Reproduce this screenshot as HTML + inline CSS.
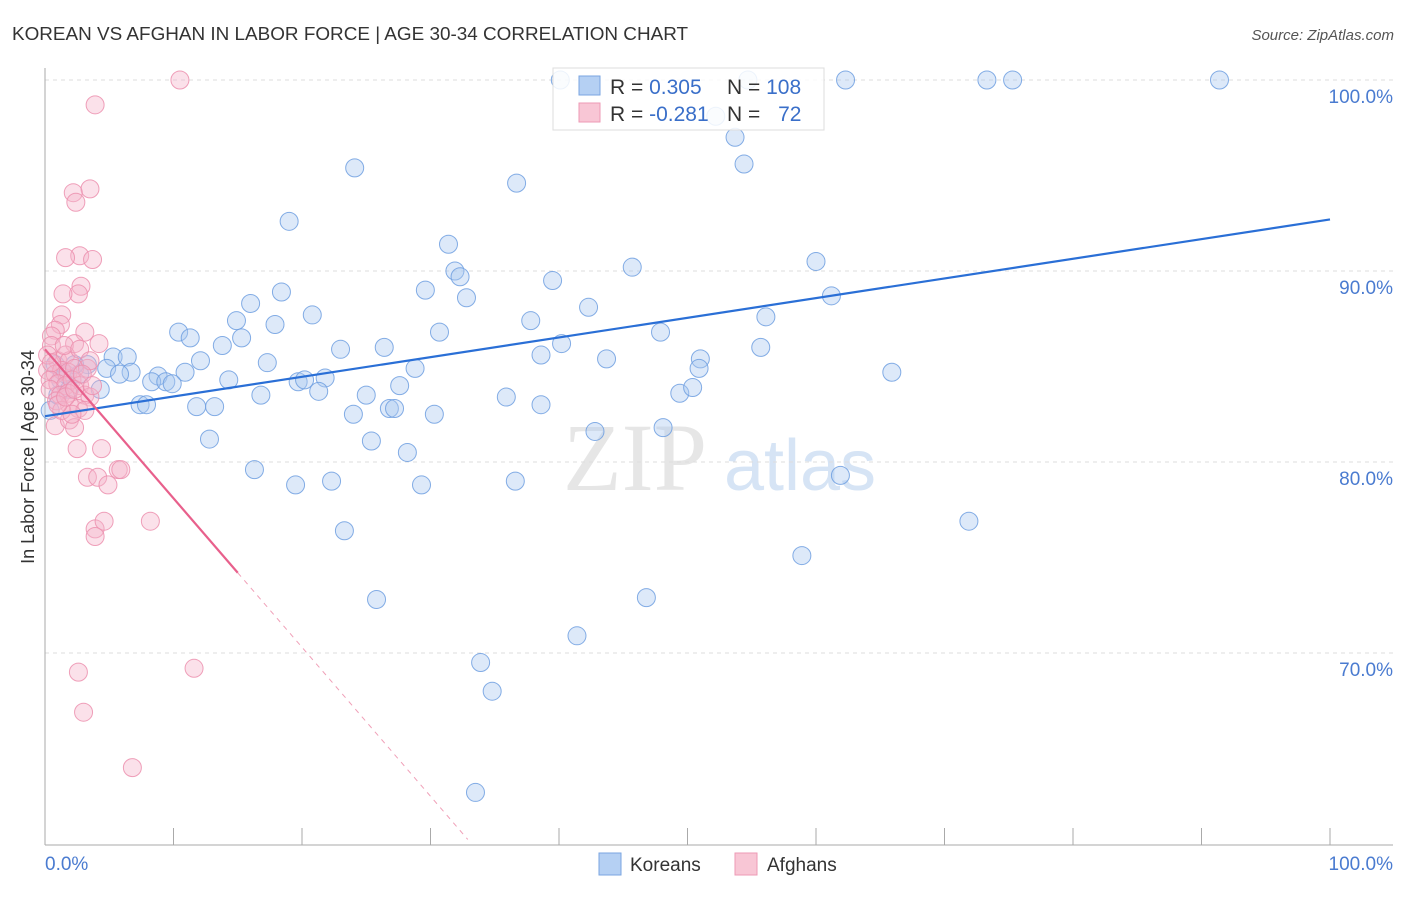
<!DOCTYPE html>
<html><head><meta charset="utf-8"><style>
body{margin:0;background:#fff;font-family:"Liberation Sans",sans-serif}
</style></head><body>
<svg width="1406" height="892" viewBox="0 0 1406 892" xmlns="http://www.w3.org/2000/svg" font-family="Liberation Sans, sans-serif">
<text x="12" y="40" font-size="18.9" fill="#333">KOREAN VS AFGHAN IN LABOR FORCE | AGE 30-34 CORRELATION CHART</text>
<text x="1394" y="40" font-size="15" fill="#555" text-anchor="end" font-style="italic">Source: ZipAtlas.com</text>
<g><text x="635" y="490" font-size="96" font-family="Liberation Serif, serif" fill="#e6e6e6" text-anchor="middle">ZIP</text><text x="800" y="490" font-size="72" fill="#d6e4f5" text-anchor="middle">atlas</text></g>
<g id="grid"></g><g id="axes"></g><g id="marks"></g><g id="lines"></g>
<text transform="translate(34,457) rotate(-90)" font-size="18" fill="#333" text-anchor="middle">In Labor Force | Age 30-34</text>
<text x="45" y="870" font-size="19" fill="#4a7bd0">0.0%</text>
<text x="1393" y="870" font-size="19" fill="#4a7bd0" text-anchor="end">100.0%</text>
<g>
<rect x="553" y="68" width="271" height="62" fill="#fff" fill-opacity="0.85" stroke="#ddd"/>
<rect x="579" y="76" width="21" height="19" fill="#b5d0f3" stroke="#7aa5e0"/>
<rect x="579" y="103" width="21" height="19" fill="#f8c6d5" stroke="#ee9ab5"/>
<text x="610" y="94" font-size="21" fill="#333">R = <tspan fill="#3a6fc9">0.305</tspan></text>
<text x="727" y="94" font-size="21" fill="#333">N = <tspan fill="#3a6fc9">108</tspan></text>
<text x="610" y="121" font-size="21" fill="#333">R = <tspan fill="#3a6fc9">-0.281</tspan></text>
<text x="727" y="121" font-size="21" fill="#333">N = <tspan fill="#3a6fc9" dx="12">72</tspan></text>
</g>
<g>
<rect x="599" y="853" width="22" height="22" fill="#b5d0f3" stroke="#7aa5e0"/>
<text x="630" y="871" font-size="19" fill="#333">Koreans</text>
<rect x="735" y="853" width="22" height="22" fill="#f8c6d5" stroke="#ee9ab5"/>
<text x="767" y="871" font-size="19" fill="#333">Afghans</text>
</g>
</svg>
<script>
const yTicks=[100,90,80,70];
const yTickLabels=["100.0%","90.0%","80.0%","70.0%"];
const xTicks=[0,10,20,30,40,50,60,70,80,90,100];
const koreanX=[40.1,54.7,62.3,73.3,75.3,91.4,52.2,53.7,54.4,24.1,36.7,19.0,31.4,31.9,32.3,45.7,60.0,39.5,29.6,32.8,18.4,16.0,20.8,42.3,37.8,56.1,61.2,14.9,17.9,10.4,11.3,30.7,47.9,15.3,13.8,23.0,26.4,40.2,55.7,5.3,6.4,12.1,17.3,38.6,43.7,51.0,3.3,4.8,28.8,50.9,6.7,5.8,10.9,8.8,14.3,8.3,9.4,9.9,19.7,20.2,21.8,65.9,27.6,4.3,21.3,16.8,25.0,49.4,50.4,35.9,7.4,7.9,11.8,13.2,24.0,26.8,27.2,30.3,38.6,42.8,48.1,12.8,25.4,28.2,61.9,16.3,19.5,22.3,29.3,36.6,71.9,23.3,58.9,25.8,46.8,41.4,33.9,34.8,33.5,0.8,1.2,1.9,0.4,1.6,2.7,1.0,2.3];
const koreanY=[100,100,100,100,100,100,98.1,97.0,95.6,95.4,94.6,92.6,91.4,90.0,89.7,90.2,90.5,89.5,89.0,88.6,88.9,88.3,87.7,88.1,87.4,87.6,88.7,87.4,87.2,86.8,86.5,86.8,86.8,86.5,86.1,85.9,86.0,86.2,86.0,85.5,85.5,85.3,85.2,85.6,85.4,85.4,85.1,84.9,84.9,84.9,84.7,84.6,84.7,84.5,84.3,84.2,84.2,84.1,84.2,84.3,84.4,84.7,84.0,83.8,83.7,83.5,83.5,83.6,83.9,83.4,83.0,83.0,82.9,82.9,82.5,82.8,82.8,82.5,83.0,81.6,81.8,81.2,81.1,80.5,79.3,79.6,78.8,79.0,78.8,79.0,76.9,76.4,75.1,72.8,72.9,70.9,69.5,68.0,62.7,85.1,84.3,83.8,82.7,84.6,84.6,83.5,85.1];
const afghanX=[10.5,3.9,3.5,2.2,2.4,2.7,1.6,3.7,2.8,2.6,1.4,1.3,1.2,0.8,0.5,3.1,4.2,2.3,0.5,1.0,1.6,1.9,0.2,0.8,1.3,1.8,2.3,3.3,0.4,1.0,1.6,2.1,2.7,0.4,1.2,1.8,3.1,3.5,1.9,2.6,3.1,0.8,1.9,2.3,2.5,4.4,3.3,4.1,5.7,5.9,4.9,3.9,4.6,3.9,8.2,2.6,11.6,3.0,6.8,0.9,1.3,2.1,0.2,0.5,1.5,2.7,3.5,1.0,1.6,2.3,2.9,3.7];
const afghanY=[100,98.7,94.3,94.1,93.6,90.8,90.7,90.6,89.2,88.8,88.8,87.7,87.2,86.9,86.6,86.8,86.2,86.2,86.1,85.3,85.6,85.3,84.8,84.6,84.8,84.7,84.9,84.9,84.3,84.1,84.0,84.3,84.0,83.8,83.5,83.6,83.5,83.4,83.0,82.8,82.7,81.9,82.2,81.8,80.7,80.7,79.2,79.2,79.6,79.6,78.8,76.5,76.9,76.1,76.9,69.0,69.2,66.9,64.0,83.2,82.7,82.5,85.6,85.2,86.1,85.9,85.3,83.0,83.4,83.8,84.6,84.0];
const koreanFit=[82.4,0.103]; // intercept, slope
const afghanFit=[85.9,-0.78];
const afghanSolidEnd=15.0, afghanDashEnd=32.9;
const NS="http://www.w3.org/2000/svg";
const X=v=>45+v*12.85, Y=v=>80+(100-v)*19.1;
function mk(t,a,p){const e=document.createElementNS(NS,t);for(const k in a)e.setAttribute(k,a[k]);p.appendChild(e);return e;}
const grid=document.getElementById('grid'),axes=document.getElementById('axes'),marks=document.getElementById('marks'),lines=document.getElementById('lines');
yTicks.forEach((t,i)=>{
 const l=mk('line',{x1:45,x2:1393,y1:Y(t),y2:Y(t),stroke:'#ddd','stroke-dasharray':'4 4'},grid);
 
 
 const tx=mk('text',{x:1393,y:Y(t)+23,'font-size':19,fill:'#4a7bd0','text-anchor':'end'},grid);
 tx.textContent=yTickLabels[i];
 
 
});
const ax=mk('line',{x1:45,x2:45,y1:68,y2:845,stroke:'#aaa'},axes);


const bx=mk('line',{x1:45,x2:1393,y1:845,y2:845,stroke:'#aaa'},axes);


xTicks.forEach(t=>{
 const k=mk('line',{x1:X(t),x2:X(t),y1:828,y2:845,stroke:'#aaa'},axes);
 
 
});
function pts(xs,ys,fill,stroke,name){xs.forEach((x,i)=>{
 const c=mk('circle',{cx:X(x),cy:Y(ys[i]),r:9,fill:fill,'fill-opacity':0.4,stroke:stroke,'stroke-width':1,'stroke-opacity':0.85},marks);
 
 
});}
pts(koreanX,koreanY,'#a9c7f0','#6f9fe0','korean-point');
pts(afghanX,afghanY,'#f6b5ca','#ec8fae','afghan-point');
const kl=mk('line',{x1:X(0),y1:Y(koreanFit[0]),x2:X(100),y2:Y(koreanFit[0]+100*koreanFit[1]),stroke:'#2a6fd6','stroke-width':2.2},lines);


const al=mk('line',{x1:X(0),y1:Y(afghanFit[0]),x2:X(afghanSolidEnd),y2:Y(afghanFit[0]+afghanSolidEnd*afghanFit[1]),stroke:'#e8608c','stroke-width':2.2},lines);


const ad=mk('line',{x1:X(afghanSolidEnd),y1:Y(afghanFit[0]+afghanSolidEnd*afghanFit[1]),x2:X(afghanDashEnd),y2:Y(afghanFit[0]+afghanDashEnd*afghanFit[1]),stroke:'#f0a0b8','stroke-width':1,'stroke-dasharray':'5 5'},lines);


</script>
</body></html>
